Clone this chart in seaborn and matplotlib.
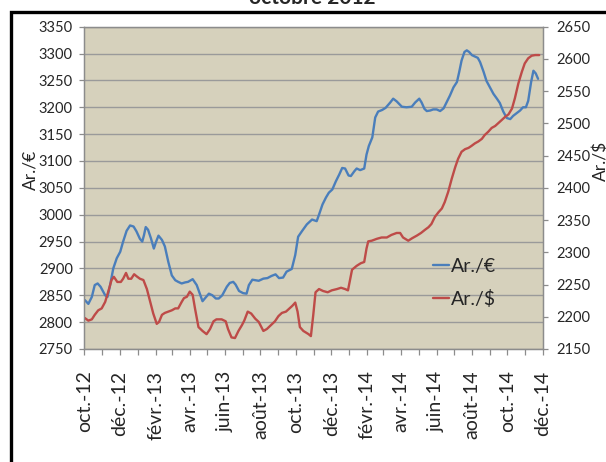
import numpy as np
import pandas as pd
import matplotlib
matplotlib.use("Agg")
import matplotlib.pyplot as plt
import matplotlib.ticker as mticker
import seaborn as sns
from matplotlib.lines import Line2D
from matplotlib.patches import Rectangle

# ---------------- data ----------------
start_date = "2012-10-01"
end_date = "2014-12-01"
title_text = "octobre 2012"
series_names = ["Ar./€", "Ar./$"]

# days since start_date, Ar./€ (left axis)
eur_days = [1, 7, 13, 18, 23, 28, 36, 40, 44, 50,
            56, 62, 67, 73, 79, 85, 90, 96, 100, 103,
            106, 110, 115, 120, 124, 128, 134, 139, 145, 151,
            157, 162, 168, 174, 179, 187, 194, 204, 208, 215,
            221, 227, 232, 238, 246, 251, 257, 261, 267, 274,
            280, 284, 290, 296, 301, 309, 316, 323, 330, 336,
            343, 349, 358, 364, 369, 376, 384, 393, 401, 405,
            411, 417, 422, 428, 434, 440, 445, 450, 456, 460,
            466, 470, 476, 483, 487, 491, 497, 502, 507, 514,
            520, 528, 533, 539, 548, 556, 565, 571, 578, 582,
            587, 591, 597, 602, 608, 614, 620, 625, 631, 637,
            643, 647, 651, 656, 660, 664, 669, 673, 679, 683,
            689, 694, 700, 706, 712, 717, 723, 729, 735, 740,
            746, 752, 757, 762, 766, 771, 775, 779, 783]
eur_vals = [2841, 2834, 2847, 2869, 2872, 2866, 2850, 2847, 2866, 2900,
            2919, 2931, 2950, 2970, 2980, 2978, 2969, 2955, 2950, 2962,
            2977, 2972, 2956, 2937, 2950, 2961, 2953, 2941, 2912, 2887,
            2878, 2875, 2872, 2874, 2875, 2880, 2869, 2839, 2844, 2853,
            2850, 2844, 2844, 2850, 2866, 2873, 2875, 2870, 2858, 2854,
            2853, 2869, 2879, 2878, 2877, 2881, 2882, 2886, 2889, 2882,
            2883, 2894, 2899, 2925, 2959, 2970, 2982, 2991, 2988, 3000,
            3019, 3032, 3041, 3047, 3062, 3075, 3087, 3086, 3073, 3072,
            3081, 3086, 3083, 3086, 3112, 3128, 3144, 3181, 3192, 3195,
            3199, 3209, 3216, 3211, 3201, 3200, 3201, 3209, 3216, 3209,
            3197, 3193, 3194, 3196, 3196, 3193, 3198, 3209, 3222, 3237,
            3247, 3266, 3287, 3303, 3306, 3303, 3297, 3295, 3292, 3284,
            3266, 3249, 3237, 3225, 3216, 3208, 3192, 3180, 3178, 3184,
            3189, 3194, 3200, 3200, 3212, 3247, 3268, 3263, 3253]

# days since start_date, Ar./$ (right axis)
usd_days = [1, 7, 13, 18, 24, 30, 36, 41, 47, 51,
            57, 63, 67, 72, 76, 81, 86, 90, 96, 102,
            108, 113, 119, 125, 129, 134, 139, 145, 151, 157,
            162, 168, 172, 177, 182, 187, 191, 197, 204, 211,
            217, 223, 228, 237, 244, 248, 254, 260, 266, 272,
            276, 282, 288, 295, 301, 309, 315, 322, 329, 335,
            341, 348, 353, 359, 364, 368, 372, 378, 387, 391,
            395, 399, 405, 412, 420, 427, 436, 443, 450, 455,
            459, 462, 470, 477, 483, 487, 490, 496, 505, 513,
            522, 530, 539, 545, 550, 559, 566, 574, 581, 588,
            594, 599, 605, 611, 617, 622, 628, 634, 640, 645,
            651, 657, 663, 668, 674, 680, 686, 691, 697, 703,
            709, 714, 720, 726, 732, 738, 743, 749, 755, 760,
            766, 772, 778, 785]
usd_vals = [2198, 2194, 2196, 2203, 2210, 2213, 2223, 2238, 2257, 2262,
            2254, 2254, 2259, 2268, 2259, 2259, 2266, 2263, 2259, 2257,
            2243, 2226, 2205, 2189, 2192, 2203, 2206, 2208, 2210, 2213,
            2213, 2223, 2229, 2231, 2239, 2234, 2213, 2184, 2178, 2173,
            2181, 2193, 2196, 2196, 2193, 2181, 2168, 2167, 2178, 2187,
            2194, 2208, 2205, 2197, 2192, 2178, 2181, 2187, 2193, 2201,
            2206, 2208, 2212, 2217, 2222, 2208, 2184, 2178, 2173, 2170,
            2202, 2238, 2243, 2240, 2238, 2241, 2243, 2245, 2243, 2241,
            2259, 2273, 2279, 2283, 2285, 2306, 2317, 2318, 2321, 2323,
            2323, 2327, 2330, 2330, 2323, 2318, 2322, 2326, 2330, 2335,
            2339, 2344, 2355, 2362, 2368, 2378, 2394, 2414, 2432, 2445,
            2456, 2460, 2462, 2465, 2469, 2472, 2476, 2482, 2487, 2493,
            2496, 2500, 2505, 2510, 2514, 2523, 2539, 2562, 2580, 2593,
            2601, 2605, 2606, 2606]

xtick_labels = ["oct.-12", "déc.-12", "févr.-13", "avr.-13", "juin-13", "août-13",
                "oct.-13", "déc.-13", "févr.-14", "avr.-14", "juin-14", "août-14",
                "oct.-14", "déc.-14"]
left_ticks = list(range(2750, 3351, 50))
right_ticks = list(range(2150, 2651, 50))

# ---------------- style ----------------
sns.set_style("white")
plt.rcParams["font.family"] = ["Lato", "DejaVu Sans"]

BLUE = "#4A7EBB"
RED = "#BE4B48"
BG = "#D6D1BC"
GRID = "#9A9A9A"
SPINE = "#8C8C8C"

W, H = 606, 462
fig = plt.figure(figsize=(W / 100, H / 100), dpi=100)
fig.patch.set_facecolor("white")

x0, x1, y0, y1 = 84.3, 542.7, 26.7, 349.0
ax = fig.add_axes([x0 / W, 1 - y1 / H, (x1 - x0) / W, (y1 - y0) / H])
ax.set_facecolor(BG)
ax2 = ax.twinx()

t0 = pd.Timestamp(start_date)
df_e = pd.DataFrame({"date": t0 + pd.to_timedelta(eur_days, unit="D"), "val": eur_vals})
df_u = pd.DataFrame({"date": t0 + pd.to_timedelta(usd_days, unit="D"), "val": usd_vals})

sns.lineplot(data=df_e, x="date", y="val", ax=ax, color=BLUE, linewidth=1.7)
sns.lineplot(data=df_u, x="date", y="val", ax=ax2, color=RED, linewidth=1.7)

ax.set_xlim(t0, pd.Timestamp(end_date))
ax.set_ylim(2750, 3350)
ax2.set_ylim(2150, 2650)

major_dates = pd.date_range(start_date, end_date, freq="2MS")
minor_dates = pd.date_range(start_date, end_date, freq="MS")
import matplotlib.dates as mdates
ax.xaxis.set_major_locator(mticker.FixedLocator(mdates.date2num(major_dates)))
ax.xaxis.set_minor_locator(mticker.FixedLocator(mdates.date2num(minor_dates)))
ax.set_xticklabels(xtick_labels)

ax.set_yticks(left_ticks)
ax.set_yticklabels([str(v) for v in left_ticks])
ax2.set_yticks(right_ticks)
ax2.set_yticklabels([str(v) for v in right_ticks])

ax.yaxis.grid(True, color=GRID, linewidth=1.0)
ax.xaxis.grid(False)
ax.set_axisbelow(True)

for a in (ax, ax2):
    for s in a.spines.values():
        s.set_color(SPINE)
        s.set_linewidth(0.9)
    a.set_xlabel("")
    a.set_ylabel("")

ax.tick_params(axis="x", which="both", direction="out", length=4, width=0.9,
               color=SPINE, pad=11.5, labelsize=14, labelrotation=90, bottom=True)
ax.tick_params(axis="y", direction="out", length=3.3, width=0.9, color=SPINE,
               pad=5, labelsize=10.5, left=True)
ax2.tick_params(axis="y", direction="out", length=3.6, width=0.9, color=SPINE,
                pad=6, labelsize=10.5, right=True)

# axis titles
fig.text(30 / W, 1 - 170 / H, series_names[0], rotation=90, ha="center",
         va="center", fontsize=12.5)
fig.text(601 / W, 1 - 161 / H, series_names[1], rotation=90, ha="center",
         va="center", fontsize=12.5)

# legend
handles = [Line2D([], [], color=BLUE, linewidth=1.7),
           Line2D([], [], color=RED, linewidth=1.7)]
ax2.legend(handles, series_names, loc="center left",
           bbox_to_anchor=(433 / W, 1 - 283 / H), bbox_transform=fig.transFigure,
           frameon=False, fontsize=14, handlelength=0.8, handletextpad=0.1,
           labelspacing=0.75, borderpad=0, borderaxespad=0)

# title (cut off at top)
fig.text(312 / W, 1 - 4 / H, title_text, ha="center", va="baseline",
         fontsize=15, fontweight="bold")

# black outer frame
frame = Rectangle((10.5 / W, -0.2), 1.2, 1 - 12 / H + 0.2, transform=fig.transFigure,
                  fill=False, edgecolor="black", linewidth=2.4, clip_on=False)
fig.add_artist(frame)

fig.savefig("out.png", dpi=100)
